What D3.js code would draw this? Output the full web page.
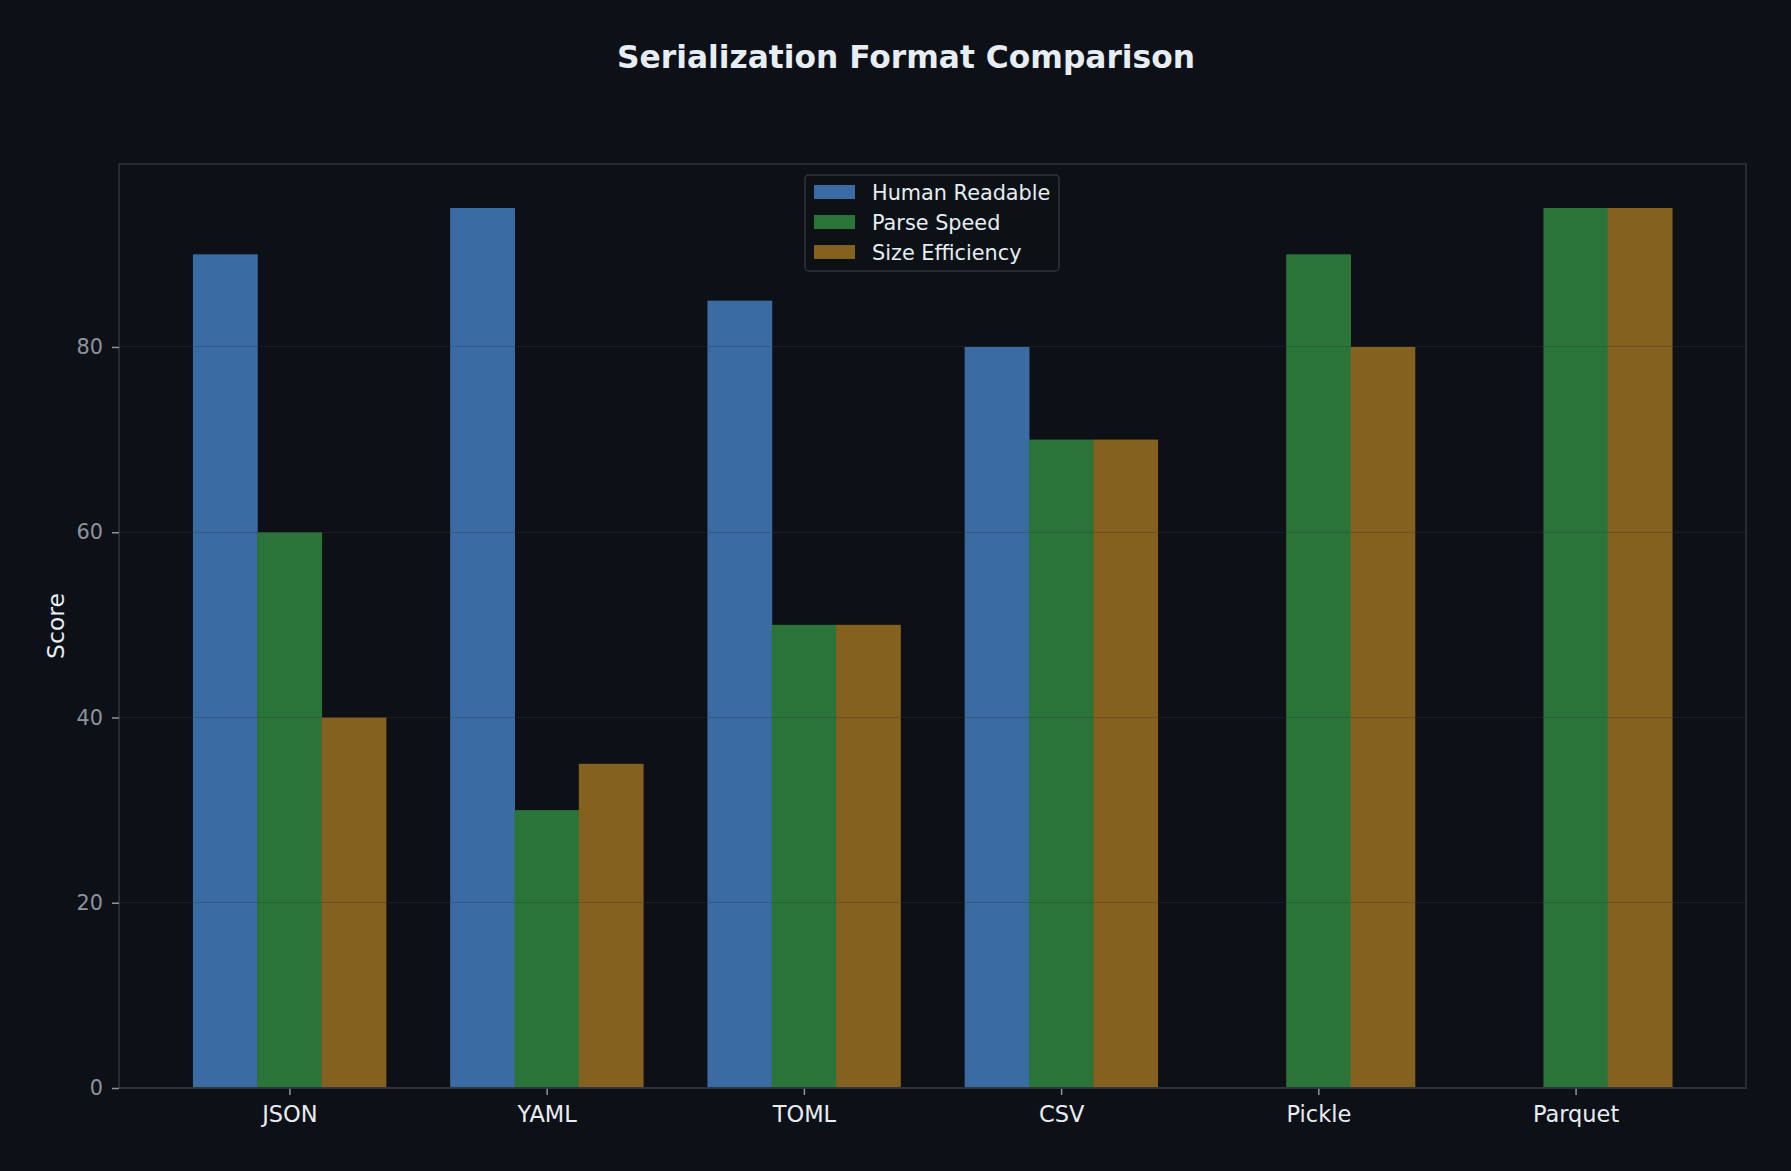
<!DOCTYPE html>
<html lang="en">
<head>
    <meta charset="UTF-8">
    <script src="https://d3js.org/d3.v7.min.js"></script>
    <style>
        body { margin: 0; background: #0d1117; }
        text { font-family: "DejaVu Sans", sans-serif; }
    </style>
</head>
<body>
    <svg id="canvas" width="1791" height="1171"></svg>
    <script>
        // data
        const formats = ["JSON", "YAML", "TOML", "CSV", "Pickle", "Parquet"];
        const seriesNames = ["Human Readable", "Parse Speed", "Size Efficiency"];
        const humanReadable = [90, 95, 85, 80, 0, 0];
        const parseSpeed = [60, 30, 50, 70, 90, 95];
        const sizeEfficiency = [40, 35, 50, 70, 80, 95];
        const yTicks = [0, 20, 40, 60, 80];

        const seriesValues = [humanReadable, parseSpeed, sizeEfficiency];
        const colors = ["#3a6ca3", "#2a7439", "#84611f"];

        const svg = d3.select("#canvas");
        svg.append("rect").attr("width", 1791).attr("height", 1171).attr("fill", "#0d1117");

        // plot area (window.top is taken, so different names)
        const plotLeft = 119, plotRight = 1746, plotTop = 164, plotBottom = 1088;

        // matplotlib style: bars at integer positions, width 0.25, 5% margins
        const xScale = d3.scaleLinear().domain([-0.6625, 5.6625]).range([plotLeft, plotRight]);
        const yScale = d3.scaleLinear().domain([0, 99.75]).range([plotBottom, plotTop]);
        const barW = 0.25;

        // bars
        seriesValues.forEach((vals, s) => {
            svg.append("g").selectAll("rect")
                .data(vals)
                .join("rect")
                .attr("x", (d, i) => xScale(i + (s - 1) * barW - barW / 2))
                .attr("width", xScale(barW) - xScale(0) + 0.5)
                .attr("y", d => yScale(d))
                .attr("height", d => yScale(0) - yScale(d))
                .attr("fill", colors[s]);
        });

        // grid on top of bars, faint
        svg.append("g").selectAll("line")
            .data(yTicks.slice(1))
            .join("line")
            .attr("x1", plotLeft).attr("x2", plotRight)
            .attr("y1", d => yScale(d)).attr("y2", d => yScale(d))
            .attr("stroke", "#30363d")
            .attr("stroke-opacity", 0.35)
            .attr("shape-rendering", "crispEdges");

        // frame
        svg.append("rect")
            .attr("x", plotLeft).attr("y", plotTop)
            .attr("width", plotRight - plotLeft).attr("height", plotBottom - plotTop)
            .attr("fill", "none").attr("stroke", "#30363d").attr("stroke-width", 1.5);

        // y axis
        const yAxis = d3.axisLeft(yScale).tickValues(yTicks).tickSize(7).tickPadding(9);
        const gy = svg.append("g").attr("transform", `translate(${plotLeft},0)`).call(yAxis);
        gy.select(".domain").remove();
        gy.selectAll(".tick line").attr("stroke", "#8b949e").attr("stroke-width", 1.5);
        gy.selectAll(".tick text").attr("fill", "#8b949e").attr("font-size", "20.8px")
            .attr("font-family", "DejaVu Sans");

        // x axis
        const xAxis = d3.axisBottom(xScale).tickValues(d3.range(formats.length))
            .tickFormat(i => formats[i]).tickSize(7).tickPadding(11);
        const gx = svg.append("g").attr("transform", `translate(0,${plotBottom})`).call(xAxis);
        gx.select(".domain").remove();
        gx.selectAll(".tick line").attr("stroke", "#8b949e").attr("stroke-width", 1.5);
        gx.selectAll(".tick text").attr("fill", "#e6edf3").attr("font-size", "22.5px")
            .attr("font-family", "DejaVu Sans");

        // bottom spine drawn again over bars
        svg.append("line")
            .attr("x1", plotLeft).attr("x2", plotRight).attr("y1", plotBottom).attr("y2", plotBottom)
            .attr("stroke", "#30363d").attr("stroke-width", 1.5);

        // title + y label
        svg.append("text")
            .attr("x", 906).attr("y", 68)
            .attr("text-anchor", "middle")
            .attr("font-size", "31.3px").attr("font-weight", "bold")
            .attr("fill", "#e6edf3")
            .text("Serialization Format Comparison");

        svg.append("text")
            .attr("transform", `translate(64,${(plotTop + plotBottom) / 2}) rotate(-90)`)
            .attr("text-anchor", "middle")
            .attr("font-size", "23.5px")
            .attr("fill", "#e6edf3")
            .text("Score");

        // legend
        const legend = svg.append("g").attr("transform", "translate(805,175)");
        legend.append("rect")
            .attr("width", 254).attr("height", 96).attr("rx", 4)
            .attr("fill", "#0d1117").attr("fill-opacity", 0.8)
            .attr("stroke", "#30363d").attr("stroke-width", 1.5);

        const items = legend.selectAll(".item")
            .data(seriesNames)
            .join("g")
            .attr("class", "item")
            .attr("transform", (d, i) => `translate(0,${17 + i * 30})`);

        items.append("rect")
            .attr("x", 9).attr("y", -7).attr("width", 41).attr("height", 14)
            .attr("fill", (d, i) => colors[i]);

        items.append("text")
            .attr("x", 67).attr("y", 7.5)
            .attr("font-size", "20.8px")
            .attr("fill", "#e6edf3")
            .text(d => d);
    </script>
</body>
</html>
